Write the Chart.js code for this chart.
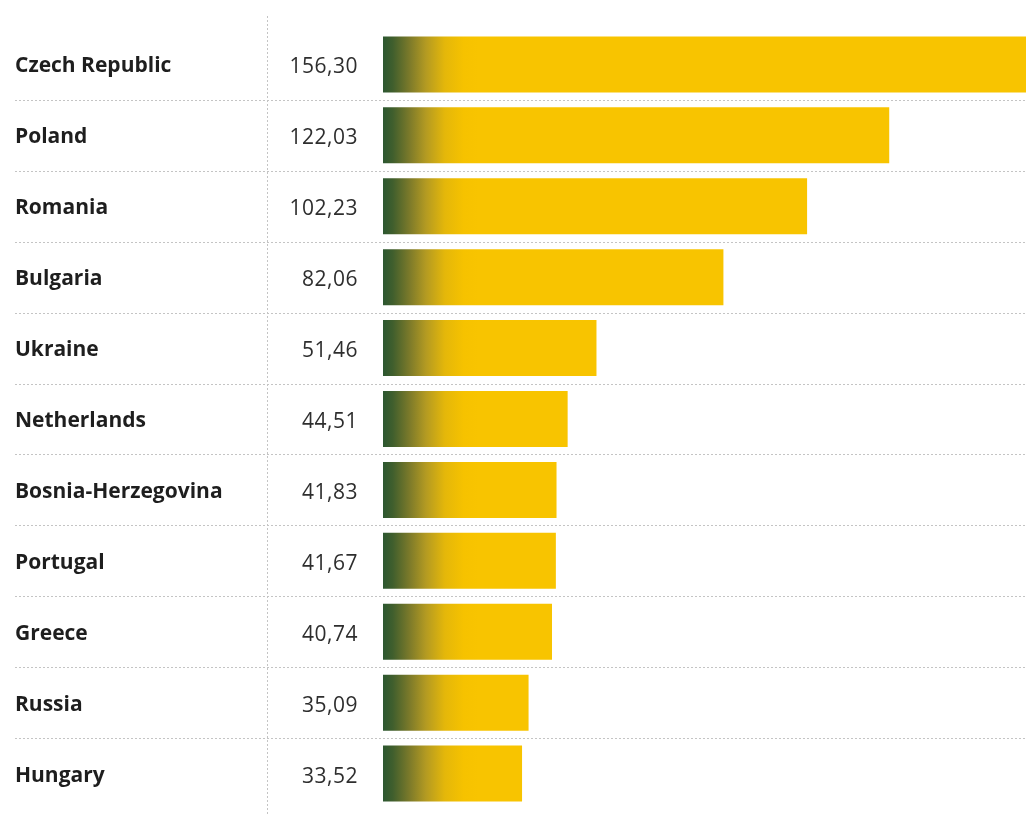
<!DOCTYPE html>
<html>
<head>
<meta charset="utf-8">
<script src="https://cdn.jsdelivr.net/npm/chart.js@4.4.1/dist/chart.umd.min.js"></script>
<style>
  html, body { margin: 0; padding: 0; background: #fff; }
  #wrap { width: 1026px; height: 815px; position: relative; }
</style>
</head>
<body>
<div id="wrap"><canvas id="countryChart"></canvas></div>
<script>
const countries = ['Czech Republic', 'Poland', 'Romania', 'Bulgaria', 'Ukraine', 'Netherlands',
    'Bosnia-Herzegovina', 'Portugal', 'Greece', 'Russia', 'Hungary'];
const values = [156.30, 122.03, 102.23, 82.06, 51.46, 44.51, 41.83, 41.67, 40.74, 35.09, 33.52];
const valueLabels = ['156,30', '122,03', '102,23', '82,06', '51,46', '44,51', '41,83', '41,67', '40,74', '35,09', '33,52'];

const ctx = document.getElementById('countryChart');

// green-to-yellow fade at the start of every bar
function barFill(context) {
    const chart = context.chart;
    const area = chart.chartArea;
    if (!area) return '#f7c300';
    const x0 = chart.scales.x.getPixelForValue(0);
    const g = chart.ctx.createLinearGradient(x0, 0, x0 + 95, 0);
    g.addColorStop(0, '#2c5730');
    g.addColorStop(0.1, '#3f5e2d');
    g.addColorStop(0.28, '#7c7a2a');
    g.addColorStop(0.45, '#b39a22');
    g.addColorStop(0.65, '#e4b70a');
    g.addColorStop(0.85, '#f6c200');
    g.addColorStop(1, '#f8c400');
    return g;
}

// dotted row separators, the dotted divider and the value column
const tablePlugin = {
    id: 'tablePlugin',
    beforeDatasetsDraw(chart) {
        const c = chart.ctx;
        const y = chart.scales.y;
        const step = y.getPixelForValue(1) - y.getPixelForValue(0);
        c.save();
        c.strokeStyle = '#c4c4c4';
        c.lineWidth = 1;
        c.setLineDash([2, 2]);
        for (let i = 0; i < countries.length - 1; i++) {
            const py = Math.round(y.getPixelForValue(i) + step / 2) + 0.5;
            c.beginPath();
            c.moveTo(15, py);
            c.lineTo(chart.width, py);
            c.stroke();
        }
        c.beginPath();
        c.moveTo(267.5, 16);
        c.lineTo(267.5, chart.height);
        c.stroke();
        c.restore();
    },
    afterDatasetsDraw(chart) {
        const c = chart.ctx;
        const y = chart.scales.y;
        c.save();
        c.fillStyle = '#2e2e2e';
        c.font = '21px "Open Sans"';
        c.letterSpacing = '0.5px';
        c.textAlign = 'right';
        c.textBaseline = 'middle';
        valueLabels.forEach((t, i) => {
            c.fillText(t, chart.chartArea.left - 25, y.getPixelForValue(i) + 3);
        });
        c.restore();
    }
};

const myChart = new Chart(ctx, {
    type: 'bar',
    data: {
        labels: countries,
        datasets: [{
            data: values,
            backgroundColor: barFill,
            borderWidth: 0,
            barPercentage: 0.79,
            categoryPercentage: 1
        }]
    },
    options: {
        indexAxis: 'y',
        responsive: true,
        maintainAspectRatio: false,
        animation: false,
        layout: { padding: { left: 15, top: 29, bottom: 6, right: 0 } },
        plugins: {
            legend: { display: false },
            tooltip: { enabled: false }
        },
        scales: {
            x: {
                min: 0,
                max: 155,
                display: false
            },
            y: {
                grid: { display: false },
                border: { display: false },
                afterFit(scale) {
                    scale.width = 368;
                    scale.paddingTop = 0;
                    scale.paddingBottom = 0;
                },
                ticks: {
                    crossAlign: 'far',
                    labelOffset: 2,
                    color: '#1e1e1e',
                    font: { family: 'Open Sans', size: 21, weight: 'bold' }
                }
            }
        }
    },
    plugins: [tablePlugin]
});
</script>
</body>
</html>
